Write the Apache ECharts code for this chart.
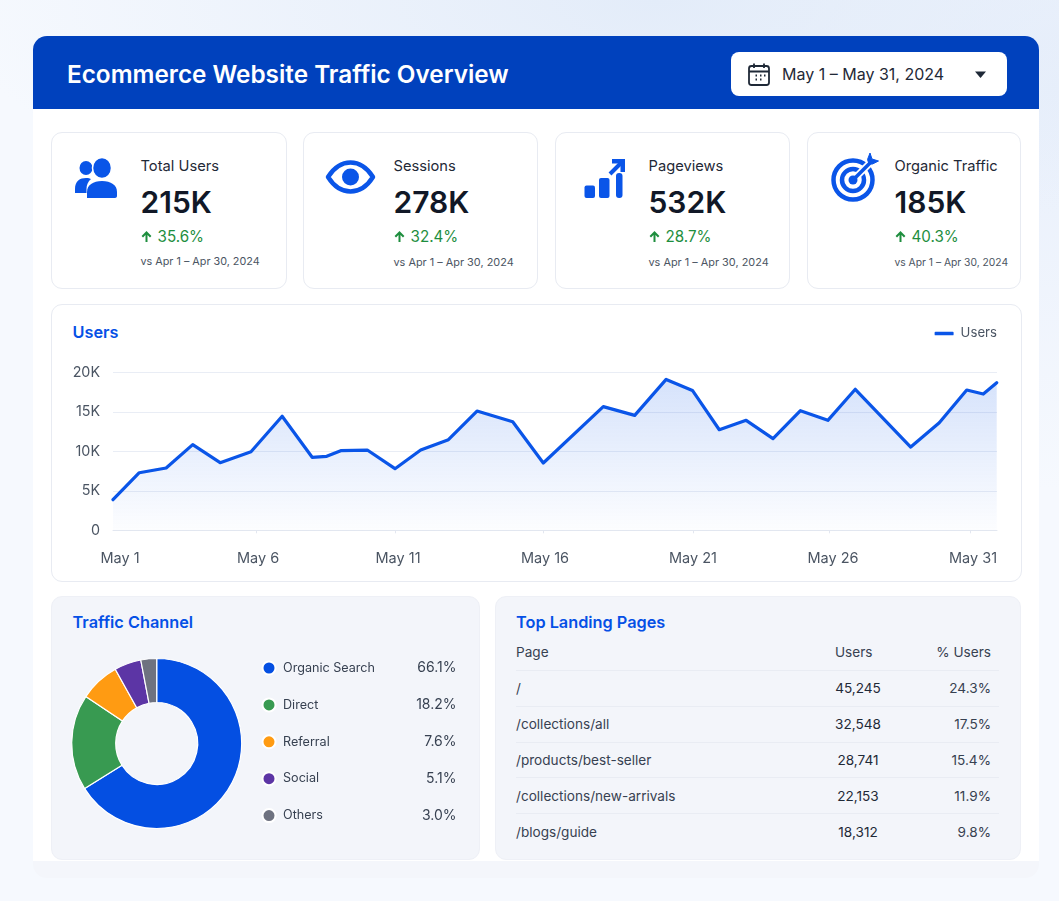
<!DOCTYPE html>
<html>
<head>
<meta charset="utf-8">
<title>Ecommerce Website Traffic Overview</title>
<script src="https://cdn.jsdelivr.net/npm/echarts@6/dist/echarts.min.js"></script>
<style>
  html, body { margin: 0; padding: 0; width: 1059px; height: 901px; overflow: hidden; }
  body {
    position: relative; font-family: Inter, "Noto Sans", sans-serif; color: #111827;
    background:
      radial-gradient(700px 260px at 62% 0%, #e3ecf9 0%, rgba(227,236,249,0) 100%),
      radial-gradient(500px 400px at 100% 10%, #e8effb 0%, rgba(232,239,251,0) 100%),
      #f6f9fe;
  }
  .abs { position: absolute; }
  .shell-foot { left: 33px; top: 840px; width: 1006px; height: 38px; background: #f4f6fb; border-radius: 0 0 14px 14px; }
  .shell { left: 33px; top: 36px; width: 1006px; height: 825px; background: #fff; border-radius: 14px 14px 0 0; }
  .header { left: 33px; top: 36px; width: 1006px; height: 73px; background: #0041bd; border-radius: 14px 14px 0 0; }
  .title { left: 67px; top: 58px; font-size: 24.3px; line-height: 32px; font-weight: 600; color: #fff; white-space: nowrap; }
  .picker { left: 731px; top: 52px; width: 276px; height: 44px; background: #fff; border-radius: 8px; }
  .picker-text { left: 782px; top: 64px; font-size: 16px; line-height: 21px; color: #1f2937; white-space: nowrap; }
  .card { box-sizing: border-box; background: #fff; border: 1px solid #e8ebf2; border-radius: 11px; }
  .kpi-name { font-size: 14.7px; line-height: 20px; color: #1f2937; white-space: nowrap; }
  .kpi-value { font-size: 30px; line-height: 38px; font-weight: 600; color: #111827; white-space: nowrap; }
  .kpi-delta { font-size: 15.2px; line-height: 20px; color: #1e8e3e; white-space: nowrap; }
  .kpi-sub { line-height: 16px; color: #4b5563; white-space: nowrap; }
  .heading { font-size: 16.3px; line-height: 22px; font-weight: 600; color: #0550e6; white-space: nowrap; }
  .panel { box-sizing: border-box; background: #f3f5fa; border: 1px solid #eef0f6; border-radius: 11px; }
  .cell { font-size: 13.6px; line-height: 20px; color: #374151; white-space: nowrap; }
  .num { color: #1f2937; }
  .rule { height: 1px; background: #e9ecf3; left: 516px; width: 483px; }
  #chart { position: absolute; left: 0; top: 0; width: 1059px; height: 901px; }
</style>
</head>
<body>
<div class="abs shell-foot"></div>
<div class="abs shell"></div>
<div class="abs header"></div>
<div class="abs title">Ecommerce Website Traffic Overview</div>
<div class="abs picker"></div>
<svg class="abs" style="left:747px;top:62px" width="24" height="25" viewBox="0 0 24 25" fill="none" stroke="#1f2937" stroke-width="1.8">
  <rect x="2" y="4" width="20" height="19" rx="2.5"/>
  <path d="M2 9.5h20M7 1.5v4.5M17 1.5v4.5"/>
  <path d="M8.5 13.5h1.5M13 13.5h1.5M17 13.5h1.5M8.5 17.5h1.5M13 17.5h1.5" stroke-width="2"/>
</svg>
<div class="abs picker-text">May 1 – May 31, 2024</div>
<svg class="abs" style="left:974px;top:70px" width="13" height="9" viewBox="0 0 13 9"><path d="M1 1.5h11L6.5 8z" fill="#1f2937"/></svg>

<div id="kpis"></div>

<div class="abs card" style="left:51px;top:304px;width:971px;height:278px"></div>
<div class="abs heading" style="left:72.500px;top:321px">Users</div>

<div class="abs panel" style="left:51px;top:596px;width:429px;height:264px"></div>
<div class="abs heading" style="left:72.500px;top:611px">Traffic Channel</div>

<div class="abs panel" style="left:495px;top:596px;width:526px;height:264px"></div>
<div class="abs heading" style="left:516px;top:611px">Top Landing Pages</div>
<div id="table"></div>

<div id="chart"></div>

<script>
// KPI summary
const kpiNames = ['Total Users', 'Sessions', 'Pageviews', 'Organic Traffic'];
const kpiValues = ['215K', '278K', '532K', '185K'];
const kpiDeltas = ['35.6%', '32.4%', '28.7%', '40.3%'];
const kpiCompare = 'vs Apr 1 – Apr 30, 2024';

// Daily users: position along the May date axis, and value in users
const userDays = [1, 1.92, 2.86, 3.79, 4.75, 5.83, 6.92, 7.97, 8.48, 8.97, 9.9, 10.87, 11.77, 12.74, 13.74, 14.99, 16.06,
  18.16, 19.26, 20.36, 21.28, 22.22, 23.16, 24.1, 25.06, 26.02, 26.98, 28.92, 29.92, 30.88, 31.46, 31.93];
const userValues = [3870, 7290, 7890, 10840, 8560, 9950, 14430, 9240, 9360, 10080, 10160, 7800, 10160, 11470, 15100, 13750, 8520,
  15650, 14550, 19100, 17700, 12730, 13920, 11600, 15140, 13920, 17850, 10540, 13620, 17760, 17250, 18680];
const dateLabels = ['May 1', 'May 6', 'May 11', 'May 16', 'May 21', 'May 26', 'May 31'];
const dateLabelDays = [1.245, 6.075, 10.975, 16.12, 21.3, 26.2, 31.1];
const dateTickDays = [6, 10.87, 16.05, 21.3, 26.06, 30.996];
const userTicks = [0, 5000, 10000, 15000, 20000];

// Traffic channels
const channelNames = ['Organic Search', 'Direct', 'Referral', 'Social', 'Others'];
const channelShares = [66.1, 18.2, 7.6, 5.1, 3.0];
const channelColors = ['#044fe2', '#389a51', '#ff9b12', '#5c35a5', '#6e7280'];

// Landing pages
const pagePaths = ['/', '/collections/all', '/products/best-seller', '/collections/new-arrivals', '/blogs/guide'];
const pageUsers = ['45,245', '32,548', '28,741', '22,153', '18,312'];
const pagePercents = ['24.3%', '17.5%', '15.4%', '11.9%', '9.8%'];

const BLUE = '#0a55e8';
const kpiIcons = [
  `<svg class="abs" style="left:74px;top:156px" width="44" height="44" viewBox="0 0 44 44" fill="${BLUE}">
     <ellipse cx="12" cy="12" rx="6.5" ry="7"/><path d="M1 37v-4c0-8 5-11 11-11 2.5 0 4 .5 5 1-3 2.500-4.500 6-4.500 10v4z"/>
     <ellipse cx="28" cy="12" rx="9.500" ry="10.500" stroke="#fff" stroke-width="1.500"/>
     <path d="M13 42v-6c0-7 6-11 15-11s15 4 15 11v4c0 1-1 2-2 2z"/></svg>`,
  `<svg class="abs" style="left:324px;top:157px" width="53" height="40" viewBox="0 0 53 40" fill="none">
     <path d="M4 20C11 9 18 5.500 26.500 5.500S42 9 49 20C42 31 35 34.500 26.500 34.500S11 31 4 20z" stroke="${BLUE}" stroke-width="4.500" stroke-linejoin="round"/>
     <circle cx="26.500" cy="20" r="8.500" fill="${BLUE}"/></svg>`,
  `<svg class="abs" style="left:583px;top:156px" width="44" height="44" viewBox="0 0 44 44" fill="${BLUE}">
     <rect x="1.500" y="29.500" width="10.500" height="12.500" rx="2"/><rect x="16" y="22" width="10.500" height="20" rx="2"/><rect x="33" y="17" width="6.500" height="25" rx="3"/>
     <path d="M27 18L39 6" stroke="${BLUE}" stroke-width="4" fill="none"/><path d="M29 3h13v13h-4.500v-8.500H29z"/></svg>`,
  `<svg class="abs" style="left:829px;top:152px" width="52" height="52" viewBox="0 0 52 52" fill="none" stroke="${BLUE}">
     <circle cx="24" cy="28" r="19.500" stroke-width="4.500"/><circle cx="24" cy="28" r="11" stroke-width="4.500"/>
     <path d="M24 28L44 8" stroke="#fff" stroke-width="7"/><circle cx="24" cy="28" r="4.500" fill="${BLUE}" stroke="none"/>
     <path d="M24 28L42 10" stroke-width="3.500"/><path d="M38.500 7.500L41 1l2 6 6.500 2-6 3H40z" fill="${BLUE}" stroke="${BLUE}" stroke-width="1"/></svg>`
];
// left, width, text column, comparison text size
const cardBoxes = [[51, 236, 140.5, 10.8], [303, 235, 393.5, 10.9], [555, 235, 648.5, 10.9], [807, 214, 894.5, 10.3]];
const DELTA_ARROW = '<svg width="11" height="12" viewBox="0 0 11 12" style="margin-right:6px;vertical-align:-1px"><path d="M5.500 11V2M1.300 5.800L5.500 1.500l4.200 4.300" fill="none" stroke="#1e8e3e" stroke-width="2"/></svg>';

document.getElementById('kpis').innerHTML = kpiNames.map((name, i) => {
  const [left, width, tx, subSize] = cardBoxes[i];
  return `<div class="abs card" style="left:${left}px;top:132px;width:${width}px;height:157px"></div>${kpiIcons[i]}
    <div class="abs kpi-name" style="left:${tx}px;top:155.5px">${name}</div>
    <div class="abs kpi-value" style="left:${tx}px;top:183px">${kpiValues[i]}</div>
    <div class="abs kpi-delta" style="left:${tx}px;top:227px">${DELTA_ARROW}${kpiDeltas[i]}</div>
    <div class="abs kpi-sub" style="left:${tx}px;top:254px;font-size:${subSize}px">${kpiCompare}</div>`;
}).join('');

// Landing page table: header, five rows and the rules between them
let tableHtml = `<div class="abs cell" style="left:516px;top:642px">Page</div>
  <div class="abs cell" style="left:835px;top:642px">Users</div>
  <div class="abs cell" style="right:68px;top:642px">% Users</div>`;
pagePaths.forEach((path, i) => {
  const rowTop = 678 + i * 36;
  tableHtml += `<div class="abs rule" style="top:${670 + i * 35.8}px"></div>
    <div class="abs cell" style="left:516px;top:${rowTop}px">${path}</div>
    <div class="abs cell num" style="left:818px;width:80px;text-align:center;top:${rowTop}px">${pageUsers[i]}</div>
    <div class="abs cell" style="right:68px;top:${rowTop}px">${pagePercents[i]}</div>`;
});
document.getElementById('table').innerHTML = tableHtml;

const chart = echarts.init(document.getElementById('chart'), null, { renderer: 'canvas' });
const shareByName = Object.fromEntries(channelNames.map((n, i) => [n, channelShares[i]]));

chart.setOption({
  animation: false,
  backgroundColor: 'transparent',
  textStyle: { fontFamily: 'Inter' },
  grid: { left: 113, right: 62, top: 372.3, bottom: 370.7 },
  legend: [
    {
      data: ['Users'], right: 62, top: 327, padding: 0, icon: 'roundRect', itemWidth: 19, itemHeight: 3.5, itemGap: 0,
      textStyle: { fontFamily: 'Inter', fontSize: 13.2, color: '#4b5563', padding: [0, 0, 0, 2] }
    },
    {
      data: channelNames, orient: 'vertical', left: 261.5, top: 660.5, padding: 0, icon: 'circle',
      itemWidth: 13, itemHeight: 13, itemGap: 21.9,
      formatter: n => `{a|${n}}{b|${shareByName[n].toFixed(1)}%}`,
      textStyle: {
        rich: {
          a: { width: 123.5, padding: [0, 0, 0, 2.5], fontFamily: 'Inter', fontSize: 12.6, lineHeight: 16, color: '#374151' },
          b: { width: 50, align: 'right', fontFamily: 'Inter', fontSize: 14, lineHeight: 16, color: '#374151' }
        }
      }
    }
  ],
  xAxis: {
    type: 'value', min: 1, max: 31.94,
    splitLine: { show: false },
    axisLine: { show: true, onZero: true, lineStyle: { color: '#e3e7f0', width: 1 } },
    axisTick: { show: true, length: 3, lineStyle: { color: '#e3e7f0' }, customValues: dateTickDays },
    axisLabel: {
      customValues: dateLabelDays, margin: 21, fontSize: 14.5, color: '#4b5563', fontFamily: 'Inter',
      showMinLabel: true, showMaxLabel: true,
      formatter: v => dateLabels[dateLabelDays.indexOf(v)]
    }
  },
  yAxis: {
    type: 'value', min: userTicks[0], max: userTicks[userTicks.length - 1], interval: userTicks[1],
    axisLine: { show: false }, axisTick: { show: false },
    splitLine: { lineStyle: { color: '#e9edf5', width: 1 } },
    axisLabel: {
      margin: 13, fontSize: 14.3, color: '#4b5563', fontFamily: 'Inter',
      formatter: v => (v === 0 ? '0' : v / 1000 + 'K')
    }
  },
  series: [
    {
      name: 'Users', type: 'line', data: userDays.map((d, i) => [d, userValues[i]]),
      showSymbol: false, smooth: false, silent: true,
      itemStyle: { color: BLUE },
      lineStyle: { color: BLUE, width: 3.2, join: 'round', cap: 'round' },
      areaStyle: {
        color: new echarts.graphic.LinearGradient(0, 0, 0, 1, [
          { offset: 0, color: 'rgba(10,85,232,0.24)' },
          { offset: 1, color: 'rgba(10,85,232,0.015)' }
        ])
      }
    },
    {
      name: 'Traffic Channel', type: 'pie', center: [156.7, 743.5], radius: [41, 85], startAngle: 90, silent: true,
      label: { show: false }, labelLine: { show: false },
      itemStyle: { borderColor: '#ffffff', borderWidth: 1.2 },
      data: channelNames.map((n, i) => ({ name: n, value: channelShares[i], itemStyle: { color: channelColors[i] } }))
    }
  ]
});
</script>
</body>
</html>
